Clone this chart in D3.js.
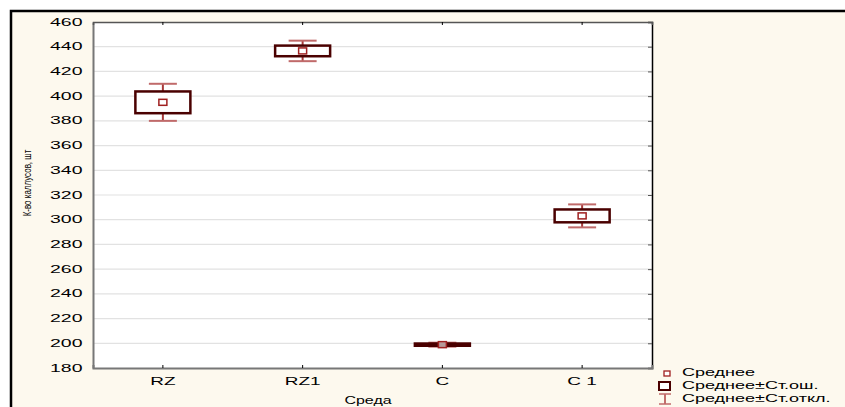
<!DOCTYPE html>
<html><head><meta charset="utf-8">
<script src="https://cdn.jsdelivr.net/npm/d3@7/dist/d3.min.js"></script>
<style>body{margin:0;background:#fff}svg{display:block;font-family:Arial,"Liberation Sans",sans-serif}</style>
</head><body><svg id="c" width="845" height="407"></svg>
<script>
const categories = ["RZ", "RZ1", "C", "C 1"];
const means = [395.0, 436.6, 198.9, 303.1];
const stdErr = [8.8, 4.3, 0.9, 5.2];
const stdDev = [15.0, 8.3, 1.6, 9.3];
const yTicks = [180,200,220,240,260,280,300,320,340,360,380,400,420,440,460];
const legendLabels = ["Среднее", "Среднее±Ст.ош.", "Среднее±Ст.откл."];

const svg = d3.select("#c");
const L = 93, R = 652, T = 22, B = 368;
// outer frame
svg.append("rect").attr("x", 11).attr("y", 11).attr("width", 845).attr("height", 410)
  .attr("fill", "#fdf9ee").attr("stroke", "#000").attr("stroke-width", 2.5);
svg.append("rect").attr("x", L).attr("y", T).attr("width", R - L).attr("height", B - T).attr("fill", "#fff");

const x = d3.scaleBand().domain(categories).range([L, R]).padding(0);
const y = d3.scaleLinear().domain([180, 460]).range([B, T]);

// grid
svg.append("g").selectAll("line").data(yTicks.filter(t => t > 180 && t < 460)).join("line")
  .attr("x1", L).attr("x2", R).attr("y1", d => y(d)).attr("y2", d => y(d))
  .attr("stroke", "#e2e2e2").attr("stroke-width", 1.2);

// axes
const yAxis = svg.append("g").attr("transform", `translate(${L},0)`)
  .call(d3.axisLeft(y).tickValues(yTicks).tickSize(0).tickFormat(""));
yAxis.select(".domain").attr("stroke", "#777").attr("stroke-width", 2);
svg.append("g").selectAll("text").data(yTicks).join("text")
  .attr("transform", d => `translate(82.5,${y(d)}) scale(1.95,1)`)
  .attr("dy", "0.36em").attr("text-anchor", "end").attr("font-size", 10).text(d => d);

const yAxisR = svg.append("g").attr("transform", `translate(${R},0)`)
  .call(d3.axisLeft(y).tickValues(yTicks).tickSize(4).tickFormat(""));
yAxisR.select(".domain").attr("stroke", "#000").attr("stroke-width", 1.5);
yAxisR.selectAll("line").attr("stroke", "#555");

const xAxis = svg.append("g").attr("transform", `translate(0,${B})`)
  .call(d3.axisTop(x).tickSize(3).tickFormat(""));
xAxis.select(".domain").attr("stroke", "#777").attr("stroke-width", 2);
svg.append("g").selectAll("text").data(categories).join("text")
  .attr("transform", d => `translate(${x(d) + x.bandwidth() / 2},384.5) scale(1.9,1)`)
  .attr("text-anchor", "middle").attr("font-size", 10).text(d => d);
const xAxisT = svg.append("g").attr("transform", `translate(0,${T})`)
  .call(d3.axisBottom(x).tickSize(3).tickFormat(""));
xAxisT.select(".domain").attr("stroke", "#555").attr("stroke-width", 1.5);

// labels
svg.append("text").attr("transform", "translate(30.5,183) rotate(-90) scale(1,1.3)")
  .attr("text-anchor", "middle").attr("font-size", 8).text("К-во каллусов, шт");
svg.append("text").attr("transform", "translate(368,404) scale(1.6,1)").attr("text-anchor", "middle")
  .attr("font-size", 10).text("Среда");

// marks
const data = categories.map((c, i) => ({c, m: means[i], se: stdErr[i], sd: stdDev[i]}));
const g = svg.append("g");
const cx = d => x(d.c) + x.bandwidth() / 2;
const boxW = 55, capW = 28;
g.selectAll(".wl").data(data).join("line")
  .attr("x1", cx).attr("x2", cx).attr("y1", d => y(d.m + d.sd)).attr("y2", d => y(d.m - d.sd))
  .attr("stroke", "#a83a3a").attr("stroke-width", 2);
g.selectAll(".ct").data(data).join("line")
  .attr("x1", d => cx(d) - capW / 2).attr("x2", d => cx(d) + capW / 2)
  .attr("y1", d => y(d.m + d.sd)).attr("y2", d => y(d.m + d.sd))
  .attr("stroke", "#c06a6a").attr("stroke-width", 2);
g.selectAll(".cb").data(data).join("line")
  .attr("x1", d => cx(d) - capW / 2).attr("x2", d => cx(d) + capW / 2)
  .attr("y1", d => y(d.m - d.sd)).attr("y2", d => y(d.m - d.sd))
  .attr("stroke", "#c06a6a").attr("stroke-width", 2);
g.selectAll(".box").data(data).join("rect")
  .attr("x", d => cx(d) - boxW / 2).attr("width", boxW)
  .attr("y", d => y(d.m + d.se)).attr("height", d => Math.max(1, y(d.m - d.se) - y(d.m + d.se)))
  .attr("fill", "#fff").attr("stroke", "#4a0000").attr("stroke-width", 2.5);
g.selectAll(".mean").data(data).join("rect")
  .attr("x", d => cx(d) - 4).attr("y", d => y(d.m) - 3).attr("width", 8).attr("height", 6)
  .attr("fill", "#fff").attr("fill-opacity", 0.6).attr("stroke", "#a02020").attr("stroke-width", 1.5);

// legend
const lg = svg.append("g");
lg.append("rect").attr("x", 664).attr("y", 371).attr("width", 6).attr("height", 5)
  .attr("fill", "#fff").attr("stroke", "#a02020").attr("stroke-width", 1.3);
lg.append("rect").attr("x", 659).attr("y", 382).attr("width", 11).attr("height", 8)
  .attr("fill", "#fff").attr("stroke", "#4a0000").attr("stroke-width", 2);
lg.append("line").attr("x1", 665).attr("x2", 665).attr("y1", 394).attr("y2", 404).attr("stroke", "#b04040").attr("stroke-width", 1.5);
lg.append("line").attr("x1", 659).attr("x2", 671).attr("y1", 394).attr("y2", 394).attr("stroke", "#c06a6a").attr("stroke-width", 1.5);
lg.append("line").attr("x1", 659).attr("x2", 671).attr("y1", 404).attr("y2", 404).attr("stroke", "#c06a6a").attr("stroke-width", 1.5);
lg.selectAll("text").data(legendLabels).join("text")
  .attr("transform", (d, i) => `translate(682,${376 + i * 13}) scale(1.8,1)`)
  .attr("font-size", 10).text(d => d);
</script></body></html>
